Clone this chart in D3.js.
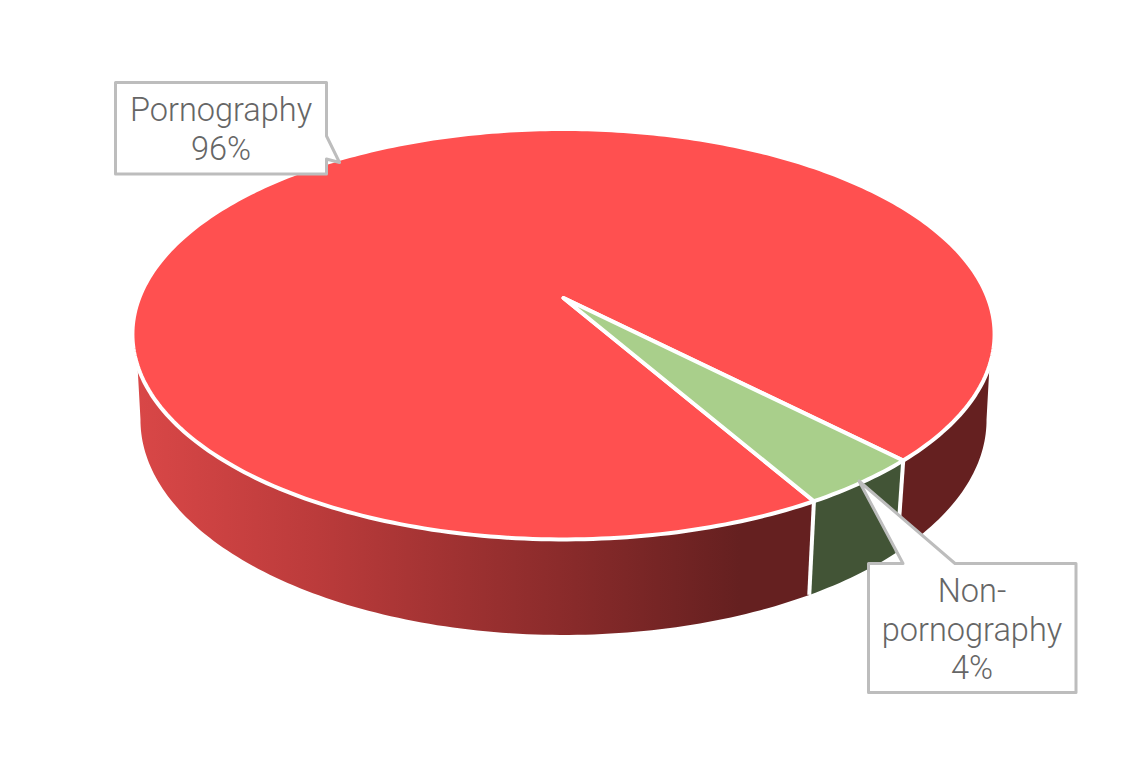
<!DOCTYPE html>
<html>
<head>
<meta charset="utf-8">
<script src="https://cdn.jsdelivr.net/npm/d3@7"></script>
<style>
  html, body { margin: 0; padding: 0; background: #fff; }
  svg { display: block; }
  text { font-family: Roboto, sans-serif; font-weight: 300; font-size: 32.5px; fill: #666; text-anchor: middle; }
</style>
</head>
<body>
<div id="chart"></div>
<script>
var categories = ['Pornography', 'Non-pornography'];
var values = [96, 4];
var labelLines = [['Pornography'], ['Non-', 'pornography']];
var topColors = ['#ff5050', '#a9cf8b'];
var sideColors = ['url(#redSide)', '#425436'];

var chart_width = 1129;
var chart_height = 779;
var svg = d3
  .select('#chart')
  .append('svg')
  .attr('width', chart_width)
  .attr('height', chart_height);

// gradient on the red wall, dark toward the right
var grad = svg
  .append('defs')
  .append('linearGradient')
  .attr('id', 'redSide')
  .attr('gradientUnits', 'userSpaceOnUse')
  .attr('x1', 136)
  .attr('x2', 740)
  .attr('y1', 0)
  .attr('y2', 0);
grad.append('stop').attr('offset', 0).attr('stop-color', '#d94747');
grad.append('stop').attr('offset', 0.3).attr('stop-color', '#bb3b3b');
grad.append('stop').attr('offset', 0.7).attr('stop-color', '#8b2b2b');
grad.append('stop').attr('offset', 1).attr('stop-color', '#652020');

// pie angles, clockwise from 12 o'clock
var pie = d3
  .pie()
  .sort(null)
  .startAngle((150 * Math.PI) / 180)
  .endAngle((510 * Math.PI) / 180);
var slices = pie(values);

// perspective view of the disc: points nearer the viewer spread out
var k = 0.1765;
var scaleX = d3.scaleLinear().domain([-1, 1]);
var scaleY = d3.scaleLinear().domain([-1, 1]);
function project(angle, r, disc) {
  var X = r * Math.sin(angle);
  var Y = -r * Math.cos(angle);
  var w = 1 - k * Y;
  scaleX.range([disc.cx - disc.a, disc.cx + disc.a]);
  scaleY.range([disc.cy - disc.b, disc.cy + disc.b]);
  return [scaleX(X / w), scaleY(Y / w)];
}
var topDisc = { cx: 563.5, cy: 298, a: 424.3, b: 198.8 };
var lowDisc = { cx: 563.5, cy: 382, a: 416.4, b: 208.3 };

var line = d3.line();
function arcPoints(a0, a1, disc) {
  var n = Math.max(2, Math.ceil(Math.abs(a1 - a0) * 60));
  return d3.range(n + 1).map(function(i) {
    return project(a0 + ((a1 - a0) * i) / n, 1, disc);
  });
}

// visible part of the wall, silhouette corners at the left and the right
// the corner sits lower on the top rim than the tangent point of the low rim
var wallFrom = (108.7 * Math.PI) / 180;
var wallTo = (251.3 * Math.PI) / 180;
var lowFrom = (100 * Math.PI) / 180;
var lowTo = (260 * Math.PI) / 180;
var full = 2 * Math.PI;
function wallParts(d) {
  var parts = [];
  [0, full, -full].forEach(function(shift) {
    var a0 = Math.max(d.startAngle + shift, wallFrom);
    var a1 = Math.min(d.endAngle + shift, wallTo);
    if (a1 > a0) parts.push([a0, a1]);
  });
  return parts;
}

// walls, white only on the cuts between slices
slices.forEach(function(d, i) {
  wallParts(d).forEach(function(p) {
    var low0 = p[0] === wallFrom ? lowFrom : p[0];
    var low1 = p[1] === wallTo ? lowTo : p[1];
    var pts = arcPoints(p[0], p[1], topDisc).concat(
      arcPoints(low1, low0, lowDisc)
    );
    svg
      .append('path')
      .attr('d', line(pts) + 'Z')
      .attr('fill', sideColors[i]);
  });
});
slices.forEach(function(d) {
  svg
    .append('path')
    .attr('d', line([project(d.startAngle, 1, topDisc), project(d.startAngle, 1, lowDisc)]))
    .attr('stroke', '#fff')
    .attr('stroke-width', 4);
});

// top face
svg
  .selectAll('path.top')
  .data(slices)
  .enter()
  .append('path')
  .attr('class', 'top')
  .attr('d', function(d) {
    var pts = [project(0, 0, topDisc)].concat(
      arcPoints(d.startAngle, d.endAngle, topDisc)
    );
    return line(pts) + 'Z';
  })
  .attr('fill', function(d, i) {
    return topColors[i];
  })
  .attr('stroke', '#fff')
  .attr('stroke-width', 4)
  .attr('stroke-linejoin', 'round');

// callouts
var callouts = [
  {
    shape: [[115.5, 82.5], [326.5, 82.5], [326.5, 136], [339.5, 162.5], [326.5, 159], [326.5, 174], [115.5, 174]],
    x: 221,
    y: 121
  },
  {
    shape: [[868.5, 563.5], [903, 563.5], [859, 481], [955, 563.5], [1076, 563.5], [1076, 692.5], [868.5, 692.5]],
    x: 972,
    y: 602
  }
];
callouts.forEach(function(c, i) {
  svg
    .append('path')
    .attr('d', line(c.shape) + 'Z')
    .attr('fill', '#fff')
    .attr('stroke', '#bdbdbd')
    .attr('stroke-width', 3)
    .attr('stroke-linejoin', 'round');
  labelLines[i].concat([values[i] + '%']).forEach(function(t, j) {
    svg
      .append('text')
      .attr('x', c.x)
      .attr('y', c.y + j * 38.5)
      .text(t);
  });
});
</script>
</body>
</html>
